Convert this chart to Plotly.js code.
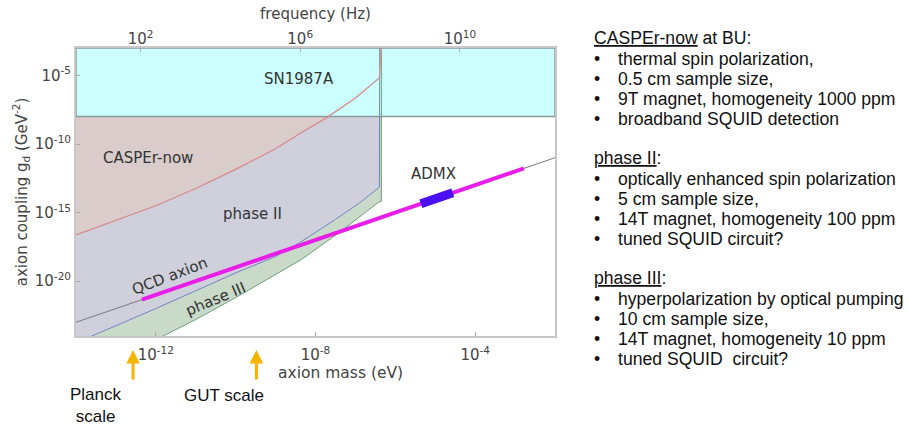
<!DOCTYPE html>
<html>
<head>
<meta charset="utf-8">
<script src="https://cdn.plot.ly/plotly-3.0.1.min.js"></script>
<style>
html,body{margin:0;padding:0;background:#fff;}
#chart{width:908px;height:428px;}
</style>
</head>
<body>
<div id="chart"></div>
<script>
// ---------- data (log10 values) ----------
// CASPEr-now sensitivity (red curve), log10 mass [eV] / log10 coupling [GeV^-2]
const caspNowLogMass     = [-14, -13, -12, -11, -10, -9, -8.4, -7.7, -7.0, -6.40, -6.36];
const caspNowLogCoupling = [-16.63, -15.56, -14.5, -13.25, -11.85, -10.35, -9.25, -8.04, -6.65, -5.19, -3];
// phase II sensitivity (blue curve)
const phase2LogMass      = [-14, -12, -10, -9, -8.4, -7.5, -6.9, -6.40, -6.39];
const phase2LogCoupling  = [-24.5, -22.0, -19.4, -18.2, -17.2, -15.5, -14.3, -13.15, -3];
// phase III sensitivity (green curve)
const phase3LogMass      = [-14, -12, -11, -10, -9, -8.37, -7.4, -6.40, -6.35, -6.35];
const phase3LogCoupling  = [-27.2, -24.3, -22.8, -21.2, -19.5, -18.45, -16.45, -14.2, -14.2, -3];
// SN1987A excluded band
const snLogMass          = [-14, -2];
const snLogCoupling      = [-8, -3];
// QCD axion band (line), highlighted segment and ADMX segment
const qcdLogMass         = [-14, -2];
const qcdLogCoupling     = [-23, -11];
const qcdHighlightLogMass     = [-12.35, -2.78];
const qcdHighlightLogCoupling = [-21.35, -11.78];
const admxLogMass        = [-5.36, -4.56];
const admxLogCoupling    = [-14.36, -13.56];
// scale markers (log10 mass)
const planckLogMass = -12.57;
const gutLogMass    = -9.48;

// ticks
const massTickExp     = [-12, -8, -4];
const freqTickExp     = [2, 6, 10];
const couplingTickExp = [-5, -10, -15, -20];

// side text
const caspNowItems = ['thermal spin polarization,', '0.5 cm sample size,', '9T magnet, homogeneity 1000 ppm', 'broadband SQUID detection'];
const phase2Items  = ['optically enhanced spin polarization', '5 cm sample size,', '14T magnet, homogeneity 100 ppm', 'tuned SQUID circuit?'];
const phase3Items  = ['hyperpolarization by optical pumping', '10 cm sample size,', '14T magnet, homogeneity 10 ppm', 'tuned SQUID  circuit?'];
const headers = [
  ['CASPEr-now', ' at BU:'],
  ['phase II', ':'],
  ['phase III', ':']
];
const blocks = [caspNowItems, phase2Items, phase3Items];

// ---------- helpers ----------
const p10 = a => a.map(v => Math.pow(10, v));
const X_RANGE = [-14, -2];
const Y_RANGE = [-24, -3];
const EV_TO_HZ_LOG = Math.log10(2.418e14);

function regionAbove(lm, lc) {
  const xs = lm.concat([lm[lm.length - 1], X_RANGE[0]]);
  const ys = lc.concat([Y_RANGE[1], Y_RANGE[1]]);
  return {x: p10(xs), y: p10(ys)};
}

const traces = [];
function fillTrace(poly, color) {
  traces.push({type: 'scatter', mode: 'lines', x: poly.x, y: poly.y, fill: 'toself',
    fillcolor: color, line: {width: 0, color: color}, hoverinfo: 'skip'});
}
function lineTrace(lm, lc, color, width) {
  traces.push({type: 'scatter', mode: 'lines', x: p10(lm), y: p10(lc),
    line: {color: color, width: width}, hoverinfo: 'skip'});
}

fillTrace(regionAbove(phase3LogMass, phase3LogCoupling), '#c9dac9');
fillTrace(regionAbove(phase2LogMass, phase2LogCoupling), '#cfd0dc');
fillTrace(regionAbove(caspNowLogMass, caspNowLogCoupling), '#d9cccb');
// SN1987A box
traces.push({type: 'scatter', mode: 'lines',
  x: p10([snLogMass[0], snLogMass[1], snLogMass[1], snLogMass[0], snLogMass[0]]),
  y: p10([snLogCoupling[0], snLogCoupling[0], snLogCoupling[1], snLogCoupling[1], snLogCoupling[0]]),
  fill: 'toself', fillcolor: '#ccffff', line: {color: '#8a9a9a', width: 1.5}, hoverinfo: 'skip'});

lineTrace(phase3LogMass, phase3LogCoupling, '#6f9f78', 1);
lineTrace(phase2LogMass, phase2LogCoupling, '#7582c4', 1);
lineTrace(caspNowLogMass, caspNowLogCoupling, '#d88888', 1.2);
lineTrace(qcdLogMass, qcdLogCoupling, '#7a7a7a', 1);
lineTrace(qcdHighlightLogMass, qcdHighlightLogCoupling, '#e81ee8', 4);
lineTrace(admxLogMass, admxLogCoupling, '#4a10f0', 9);
// top frequency axis registration
traces.push({type: 'scatter', mode: 'lines', x: [], y: [], xaxis: 'x2', yaxis: 'y', hoverinfo: 'skip'});

// ---------- annotations ----------
const chartFont = 'DejaVu Sans, Verdana, sans-serif';
const sideFont = 'Liberation Sans, Arial, sans-serif';
const SIDE_SIZE = 17.6;
const L = 76, PW = 479, T = 48, PH = 288;
const px2x = px => (px - L) / PW;
const py2y = py => (T + PH - py) / PH;

const ann = [
  {text: 'SN1987A', x: -8.42, y: -5.24},
  {text: 'CASPEr-now', x: -12.2, y: -10.99},
  {text: 'phase II', x: -9.59, y: -15.1},
  {text: 'ADMX', x: -5.04, y: -12.18},
  {text: 'QCD axion', x: -11.64, y: -19.64, textangle: -21},
  {text: 'phase III', x: -10.5, y: -21.3, textangle: -23}
].map(a => Object.assign({xref: 'x', yref: 'y', showarrow: false, xanchor: 'center', yanchor: 'middle',
  font: {family: chartFont, size: 15, color: '#333'}}, a));

// bottom axis title (offset to the right as in the reference)
ann.push({xref: 'paper', yref: 'paper', x: px2x(340), y: py2y(373), xanchor: 'center', yanchor: 'middle',
  text: 'axion mass (eV)', showarrow: false, font: {family: chartFont, size: 15.5, color: '#444'}});

// arrows + labels
[planckLogMass, gutLogMass].forEach(m => {
  ann.push({xref: 'x', yref: 'paper', x: m, y: py2y(350), ax: 0, ay: 31, text: '',
    showarrow: true, arrowhead: 2, arrowsize: 0.9, arrowwidth: 3, arrowcolor: '#f4b400'});
});
ann.push({xref: 'paper', yref: 'paper', x: px2x(96), y: py2y(405), xanchor: 'center', yanchor: 'middle',
  text: 'Planck<br>scale', showarrow: false, align: 'center',
  font: {family: sideFont, size: 17, color: '#111'}});
ann.push({xref: 'paper', yref: 'paper', x: px2x(224), y: py2y(395), xanchor: 'center', yanchor: 'middle',
  text: 'GUT scale', showarrow: false, font: {family: sideFont, size: 17, color: '#111'}});

// side text
blocks.forEach((items, k) => {
  const hy = 38 + 120 * k;
  ann.push({xref: 'paper', yref: 'paper', x: px2x(592), y: py2y(hy), xanchor: 'left', yanchor: 'middle',
    text: '<span style="text-decoration:underline">' + headers[k][0] + '</span>' + headers[k][1],
    showarrow: false, font: {family: sideFont, size: SIDE_SIZE, color: '#111'}});
  items.forEach((t, i) => {
    const iy = hy + 21 + 20 * i;
    ann.push({xref: 'paper', yref: 'paper', x: px2x(597), y: py2y(iy), xanchor: 'center', yanchor: 'middle',
      text: '•', showarrow: false, font: {family: sideFont, size: SIDE_SIZE, color: '#111'}});
    ann.push({xref: 'paper', yref: 'paper', x: px2x(616), y: py2y(iy), xanchor: 'left', yanchor: 'middle',
      text: t, showarrow: false, font: {family: sideFont, size: SIDE_SIZE, color: '#111'}});
  });
});

const supLabel = e => '10<sup>' + (e < 0 ? '-' + (-e) : e) + '</sup>';

const axisCommon = {showgrid: false, zeroline: false, ticks: 'inside', ticklen: 4, tickcolor: '#aaa',
  tickwidth: 1, tickfont: {family: chartFont, size: 15, color: '#444'}};

const layout = {
  width: 908, height: 428,
  margin: {l: L, r: 908 - L - PW, t: T, b: 428 - T - PH, pad: 0},
  paper_bgcolor: '#fff', plot_bgcolor: '#fff',
  showlegend: false,
  font: {family: chartFont, size: 14, color: '#444'},
  xaxis: Object.assign({}, axisCommon, {type: 'log', range: X_RANGE,
    tickvals: p10(massTickExp), ticktext: massTickExp.map(supLabel), ticklabelstandoff: 4,
    showline: true, mirror: true, linecolor: '#c8c8c8', linewidth: 2}),
  xaxis2: Object.assign({}, axisCommon, {type: 'log', overlaying: 'x', side: 'top', anchor: 'y',
    range: [X_RANGE[0] + EV_TO_HZ_LOG, X_RANGE[1] + EV_TO_HZ_LOG],
    tickvals: p10(freqTickExp), ticktext: freqTickExp.map(supLabel), showline: false,
    title: {text: 'frequency (Hz)', font: {family: chartFont, size: 15, color: '#444'}, standoff: 4}}),
  yaxis: Object.assign({}, axisCommon, {type: 'log', range: Y_RANGE,
    tickvals: p10(couplingTickExp), ticktext: couplingTickExp.map(supLabel),
    showline: true, mirror: true, linecolor: '#c8c8c8', linewidth: 2,
    title: {text: 'axion coupling g<sub>d</sub> (GeV<sup>-2</sup>)', font: {family: chartFont, size: 15, color: '#444'}, standoff: 4}}),
  annotations: ann
};

Plotly.newPlot('chart', traces, layout, {staticPlot: true, displayModeBar: false});
</script>
</body>
</html>
